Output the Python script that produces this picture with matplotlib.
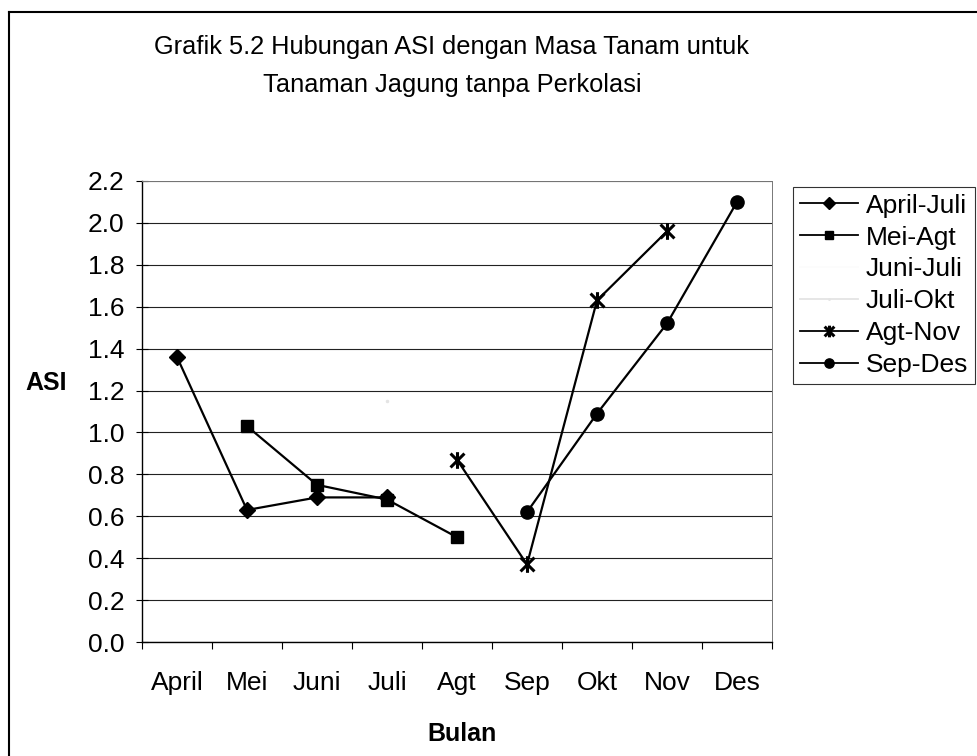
import numpy as np
import matplotlib
matplotlib.use("Agg")
import matplotlib.pyplot as plt
from matplotlib.lines import Line2D
from matplotlib.path import Path

plt.rcParams['font.family'] = ['Liberation Sans', 'DejaVu Sans']

# data
bulan = ['April', 'Mei', 'Juni', 'Juli', 'Agt', 'Sep', 'Okt', 'Nov', 'Des']
nan = np.nan
april_juli = [1.36, 0.63, 0.69, 0.69, nan, nan, nan, nan, nan]
mei_agt = [nan, 1.03, 0.75, 0.68, 0.50, nan, nan, nan, nan]
juni_juli = [nan, nan, nan, nan, nan, nan, nan, nan, nan]
juli_okt = [nan, nan, nan, 1.15, nan, nan, nan, nan, nan]
agt_nov = [nan, nan, nan, nan, 0.87, 0.37, 1.63, 1.96, nan]
sep_des = [nan, nan, nan, nan, nan, 0.62, 1.09, 1.52, 2.10]

W, H = 978, 756
fig = plt.figure(figsize=(W / 100, H / 100), dpi=100)
# plot area: x 142..772 px, y 181..642 px
ax = fig.add_axes([142 / W, 1 - 642 / H, 630 / W, 461 / H])

# excel style asterisk: an x with a vertical stroke
asterisk = Path([(-1, -1), (1, 1), (-1, 1), (1, -1), (0, -1.2), (0, 1.2)],
                [Path.MOVETO, Path.LINETO] * 3)

x = np.arange(len(bulan))
ax.plot(x, april_juli, color='black', lw=1.6, marker='D', ms=8.5, label='April-Juli')
ax.plot(x, mei_agt, color='black', lw=1.6, marker='s', ms=9, label='Mei-Agt')
ax.plot(x, juni_juli, color='#fcfcfc', lw=1.0, label='Juni-Juli')
ax.plot(x, juli_okt, color='#e4e4e4', lw=1.0, marker='.', ms=3, label='Juli-Okt')
ax.plot(x, agt_nov, color='black', lw=1.6, marker=asterisk, ms=12, mew=2.2,
        mfc='none', label='Agt-Nov')
ax.plot(x, sep_des, color='black', lw=1.6, marker='o', ms=9.5, label='Sep-Des')

ax.set_xlim(-0.5, len(bulan) - 0.5)
ax.set_ylim(0, 2.2)
yt = np.arange(0, 2.21, 0.2)
ax.set_yticks(yt)
ax.set_yticklabels(['%.1f' % v for v in yt], fontsize=19)
ax.set_xticks(x)
ax.set_xticklabels(bulan, fontsize=19)
ax.set_xticks(np.arange(-0.5, len(bulan)), minor=True)
ax.tick_params(axis='x', which='major', length=0, pad=21)
ax.tick_params(axis='x', which='minor', length=5, direction='out', width=0.8)
ax.tick_params(axis='y', length=9, direction='inout', width=0.8, pad=8)
ax.grid(axis='y', color='#222222', lw=0.8)
ax.set_axisbelow(True)

for side in ['top', 'right']:
    ax.spines[side].set_color('#777777')
    ax.spines[side].set_linewidth(0.7)
    ax.spines[side].set_linestyle((0, (3, 1)))
for side in ['left', 'bottom']:
    ax.spines[side].set_linewidth(1.0)

fig.text(462 / W, 1 - 734 / H, 'Bulan', fontsize=18, fontweight='bold',
         ha='center', va='center')
fig.text(25 / W, 1 - 383 / H, 'ASI', fontsize=18, fontweight='bold',
         ha='left', va='center')

fig.text(452 / W, 1 - 47 / H, 'Grafik 5.2 Hubungan ASI dengan Masa Tanam untuk',
         fontsize=18.3, ha='center', va='center')
fig.text(452 / W, 1 - 85 / H, 'Tanaman Jagung tanpa Perkolasi',
         fontsize=18.3, ha='center', va='center')

leg = ax.legend(loc='upper left', bbox_to_anchor=(793 / W, 1 - 187 / H),
                bbox_transform=fig.transFigure, fontsize=19,
                frameon=True, fancybox=False, edgecolor='black',
                borderaxespad=0, handlelength=2.2, labelspacing=0.3,
                borderpad=0.25, handletextpad=0.3, markerscale=0.7)
leg.get_frame().set_linewidth(0.8)
for h in leg.legend_handles:
    h.set_linewidth(1.3)

# outer frame of the chart (left and top edges visible in the scan)
fig.add_artist(Line2D([9 / W, 9 / W], [0, 1 - 12 / H], transform=fig.transFigure,
                      color='black', lw=1.5))
fig.add_artist(Line2D([9 / W, 1], [1 - 12 / H, 1 - 12 / H], transform=fig.transFigure,
                      color='black', lw=1.5))

fig.savefig('out.png', dpi=100)
